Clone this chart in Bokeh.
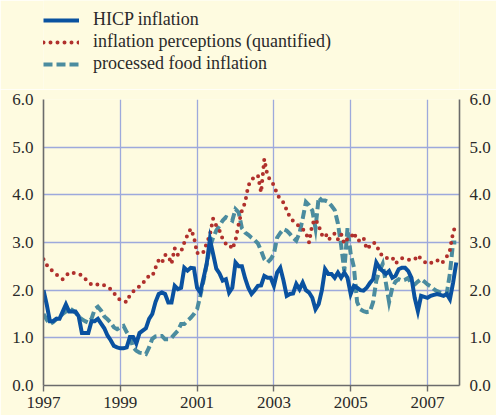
from bokeh.plotting import figure
from bokeh.layouts import column
from bokeh.models import (Range1d, LinearAxis, FixedTicker, PrintfTickFormatter,
                          Legend, LegendItem, ColumnDataSource)
from bokeh.embed import file_html
from bokeh.resources import INLINE

# ---- data (monthly, Jan 1997 - Oct 2007) ----
start_year = 1997
hicp = [
    2.0, 1.7, 1.35, 1.35, 1.4, 1.4, 1.55, 1.7, 1.55, 1.55, 1.55, 1.45,
    1.1, 1.1, 1.1, 1.35, 1.35, 1.4, 1.3, 1.2, 1.05, 0.95, 0.83, 0.8,
    0.78, 0.78, 0.8, 1.02, 1.02, 0.88, 1.1, 1.15, 1.2, 1.4, 1.5, 1.75,
    1.92, 1.95, 1.92, 1.74, 1.74, 2.09, 2.02, 2.05, 2.47, 2.41, 2.47, 2.46,
    2.05, 1.95, 2.25, 2.55, 3.07, 2.76, 2.45, 2.35, 2.2, 2.23, 1.95, 2.05,
    2.58, 2.5, 2.5, 2.25, 2.05, 1.92, 2.0, 2.09, 2.1, 2.3, 2.26, 2.26,
    2.09, 2.37, 2.47, 2.2, 1.88, 1.92, 1.93, 2.13, 2.02, 2.16, 2.0, 1.95,
    1.84, 1.6, 1.71, 2.0, 2.44, 2.34, 2.34, 2.26, 2.37, 2.26, 2.37, 2.26,
    1.92, 2.09, 2.05, 2.0, 1.99, 2.05, 2.15, 2.23, 2.58, 2.47, 2.4, 2.34,
    2.4, 2.26, 2.3, 2.44, 2.47, 2.47, 2.4, 2.26, 1.84, 1.56, 1.88, 1.86,
    1.84, 1.88, 1.9, 1.92, 1.9, 1.88, 1.92, 1.81, 2.16, 2.58,
]
perceptions = [
    2.65, 2.53, 2.45, 2.39, 2.33, 2.28, 2.23, 2.30, 2.37, 2.36, 2.36, 2.34,
    2.31, 2.24, 2.17, 2.12, 2.10, 2.12, 2.13, 2.10, 2.06, 2.02, 1.94, 1.85,
    1.79, 1.77, 1.75, 1.90, 1.97, 2.03, 2.08, 2.13, 2.25, 2.29, 2.29, 2.47,
    2.63, 2.57, 2.74, 2.72, 2.55, 2.88, 2.74, 2.81, 3.00, 3.16, 3.29, 3.12,
    2.77, 2.83, 2.80, 2.98, 3.16, 3.50, 3.35, 3.25, 3.07, 2.97, 2.97, 2.86,
    3.04, 3.39, 3.67, 3.84, 4.19, 4.31, 4.38, 4.41, 4.05, 4.75, 4.40, 4.30,
    4.20, 4.02, 3.90, 3.84, 3.68, 3.53, 3.45, 3.40, 3.33, 3.28, 3.21, 3.00,
    3.39, 3.49, 3.35, 3.16, 3.21, 3.05, 3.12, 3.19, 3.07, 3.18, 2.98, 3.08,
    3.10, 3.21, 3.04, 3.04, 3.10, 2.86, 2.93, 3.00, 2.97, 2.79, 2.72, 2.67,
    2.68, 2.69, 2.56, 2.62, 2.67, 2.65, 2.64, 2.64, 2.64, 2.73, 2.65, 2.60,
    2.55, 2.57, 2.60, 2.63, 2.56, 2.60, 2.70, 2.84, 3.21, 3.40,
]
processed_food = [
    1.50, 1.38, 1.29, 1.33, 1.39, 1.44, 1.50, 1.55, 1.63, 1.58, 1.53, 1.45,
    1.39, 1.35, 1.32, 1.40, 1.60, 1.65, 1.57, 1.45, 1.39, 1.32, 1.22, 1.18,
    1.22, 1.25, 1.12, 1.02, 0.80, 0.73, 0.69, 0.68, 0.66, 0.80, 0.98, 1.03,
    1.04, 1.04, 0.97, 0.97, 1.00, 1.08, 1.15, 1.29, 1.29, 1.36, 1.42, 1.50,
    1.60, 1.88, 2.20, 2.55, 2.90, 3.10, 3.25, 3.35, 3.46, 3.53, 3.50, 3.46,
    3.70, 3.63, 3.30, 3.21, 3.16, 3.10, 3.05, 2.98, 2.83, 2.65, 2.58, 2.65,
    2.76, 3.10, 3.20, 3.28, 3.25, 3.18, 3.10, 3.04, 3.20, 3.50, 3.85, 3.78,
    3.67, 3.30, 3.95, 3.88, 3.88, 3.85, 3.77, 3.68, 3.40, 2.95, 2.40, 3.30,
    2.76, 2.48, 1.75, 1.60, 1.56, 1.54, 1.55, 1.75, 2.20, 2.40, 2.55, 2.15,
    1.75, 2.05, 2.18, 2.23, 2.20, 2.22, 2.26, 2.12, 2.12, 2.18, 2.23, 2.18,
    2.12, 2.08, 2.02, 1.98, 1.95, 1.93, 1.92, 2.35, 3.00, 3.00,
]
series_names = ["HICP inflation", "inflation perceptions (quantified)",
                "processed food inflation"]
year_ticks = [1997, 1999, 2001, 2003, 2005, 2007]
y_ticks = [0, 1, 2, 3, 4, 5, 6]

dates = [start_year + i / 12.0 for i in range(len(hicp))]
src = ColumnDataSource(dict(x=dates, hicp=hicp, perc=perceptions, food=processed_food))

BG = "#FEFBE0"
TXT = "#2A2A2A"
FONT = "Liberation Serif"

styles = [
    dict(line_color="#0A52A0", line_width=4, line_join="miter"),
    dict(line_color="#B0302C", line_width=4, line_dash="0 7", line_cap="round"),
    dict(line_color="#4B8C9F", line_width=4, line_dash="9 4", line_join="miter"),
]

# ---------------- main chart ----------------
p = figure(width=496, height=326, output_backend="svg", toolbar_location=None,
           x_range=Range1d(1997, 2007 + 10 / 12.0), y_range=Range1d(0, 6),
           min_border_left=43, min_border_right=37, min_border_top=10,
           min_border_bottom=30)
p.background_fill_color = BG
p.border_fill_color = BG
p.outline_line_color = None

p.xgrid.ticker = FixedTicker(ticks=year_ticks[1:])
p.ygrid.ticker = FixedTicker(ticks=y_ticks[1:])
for g in (p.xgrid, p.ygrid):
    g.grid_line_color = "#9DA9DC"
    g.grid_line_width = 1.3

xa = p.xaxis[0]
xa.ticker = FixedTicker(ticks=year_ticks)
xa.formatter = PrintfTickFormatter(format="%d")
xa.major_tick_out = 6
xa.major_tick_in = 0
xa.minor_tick_out = 0
xa.minor_tick_in = 0
xa.major_label_standoff = 5

ya = p.yaxis[0]
ya.ticker = FixedTicker(ticks=y_ticks)
ya.formatter = PrintfTickFormatter(format="%.1f")
ya.major_tick_out = 0
ya.major_tick_in = 0
ya.minor_tick_out = 0
ya.minor_tick_in = 0
ya.major_label_standoff = 10

ra = LinearAxis(ticker=FixedTicker(ticks=y_ticks),
                formatter=PrintfTickFormatter(format="%.1f"))
ra.major_tick_out = 0
ra.major_tick_in = 0
ra.minor_tick_out = 0
ra.minor_tick_in = 0
ra.major_label_standoff = 10
p.add_layout(ra, "right")

for ax in (xa, ya, ra):
    ax.axis_line_color = "#6B6B6B"
    ax.axis_line_width = 1.6
    ax.major_tick_line_color = "#6B6B6B"
    ax.major_tick_line_width = 1.4
    ax.major_label_text_font = FONT
    ax.major_label_text_color = TXT
    ax.major_label_text_font_size = "17px"

p.line("x", "food", source=src, **styles[2])
p.line("x", "perc", source=src, **styles[1])
p.line("x", "hicp", source=src, **styles[0])

# ---------------- legend strip ----------------
lg = figure(width=496, height=89, output_backend="svg", toolbar_location=None,
            x_axis_type=None, y_axis_type=None,
            x_range=Range1d(0, 1), y_range=Range1d(0, 1),
            min_border_left=43, min_border_right=37, min_border_top=0,
            min_border_bottom=0)
lg.background_fill_color = BG
lg.border_fill_color = BG
lg.outline_line_color = None
lg.xgrid.visible = False
lg.ygrid.visible = False
# legend-only renderers: a single undefined point, nothing is drawn in the strip
key_src = ColumnDataSource(dict(x=[float("nan")], y=[float("nan")]))
items = []
for name, st in zip(series_names, styles):
    r = lg.line("x", "y", source=key_src, **st)
    items.append(LegendItem(label=name, renderers=[r]))

legend = Legend(items=items, location=(0, 15))
legend.background_fill_alpha = 0
legend.border_line_color = None
legend.padding = 0
legend.margin = 0
legend.spacing = 1
legend.glyph_width = 36
legend.glyph_height = 20
legend.label_height = 20
legend.label_standoff = 14
legend.label_text_font = FONT
legend.label_text_font_size = "18px"
legend.label_text_color = TXT
lg.add_layout(legend, "center")

layout = column(lg, p, spacing=0)
html = file_html(layout, INLINE)
html = html.replace("<body>", '<body style="background-color:%s;">' % BG, 1)
open("out.html", "w").write(html)
